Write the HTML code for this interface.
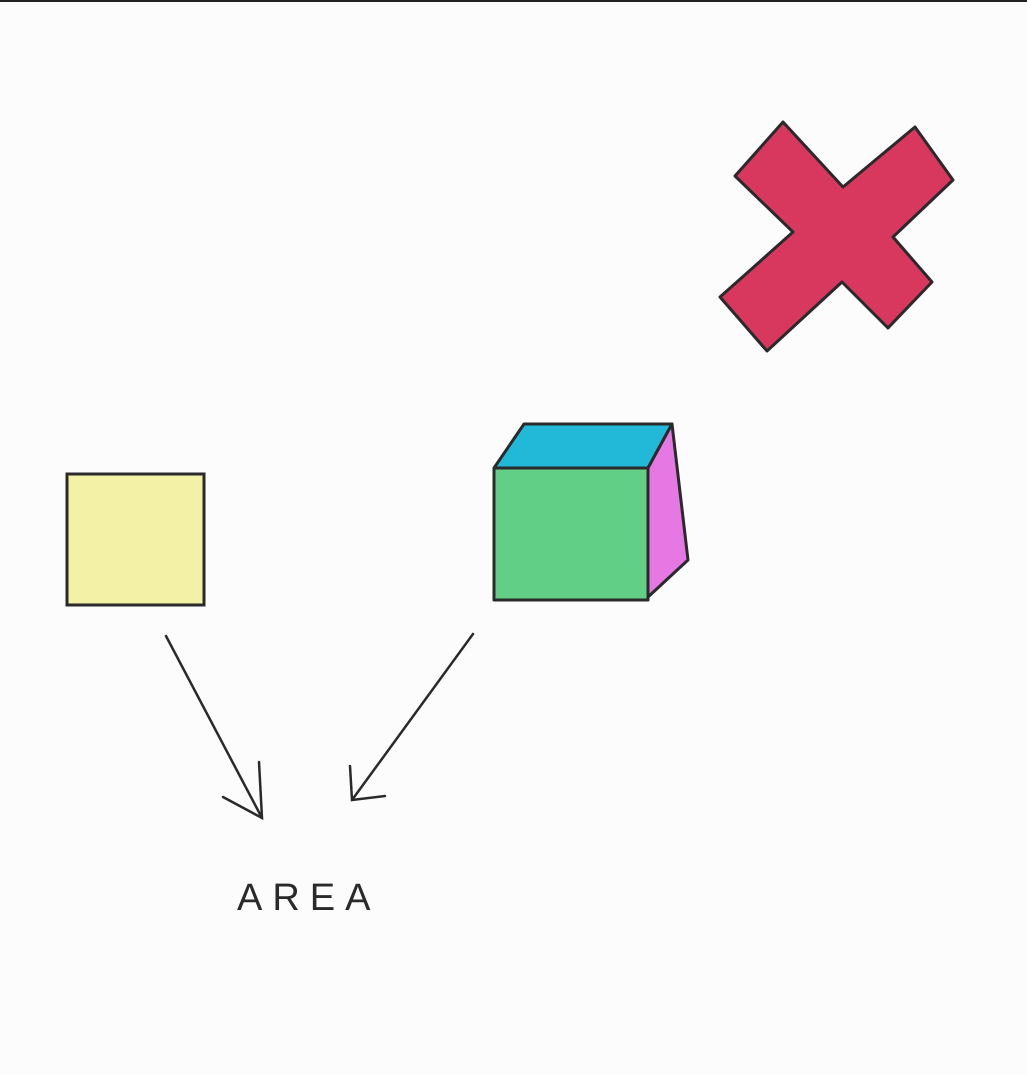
<!DOCTYPE html>
<html>
<head>
<meta charset="utf-8">
<style>
  html,body{margin:0;padding:0;background:#fdfdfd;}
  svg{display:block;}
</style>
</head>
<body>
<svg width="1027" height="1075" viewBox="0 0 1027 1075">
  <rect x="0" y="0" width="1027" height="1075" fill="#fcfcfc"/>
  <line x1="0" y1="1" x2="1027" y2="1" stroke="#222" stroke-width="2"/>

  <polygon stroke="#2a2a2a" stroke-width="3" stroke-linejoin="round" fill="#d8375e"
    points="783,122 843,187 915,127 953,180 893,237 932,282 888,328 842,282 767,351 720,297 793,232 735,176"/>

  <rect x="67" y="474" width="137" height="131" fill="#f3f1a6" stroke="#2a2a2a" stroke-width="3"/>

  <g stroke="#2a2a2a" stroke-width="3" stroke-linejoin="round">
    <polygon fill="#22b9d9" points="494,468 524,424 672,424 648,468"/>
    <polygon fill="#e578e2" points="648,468 672,424 688,560 648,597"/>
    <rect x="494" y="468" width="154" height="132" fill="#62cf87"/>
  </g>

  <g stroke="#2a2a2a" stroke-width="2.5" fill="none" stroke-linecap="round">
    <path d="M166,636 L262,818 M223,797 L262,818 L259,762"/>
    <path d="M473,634 L352,800 M350,766 L352,800 L385,796"/>
  </g>

  <text x="237" y="910" font-family="Liberation Sans, sans-serif" font-size="38" letter-spacing="10" fill="#2a2a2a">AREA</text>
</svg>
</body>
</html>
